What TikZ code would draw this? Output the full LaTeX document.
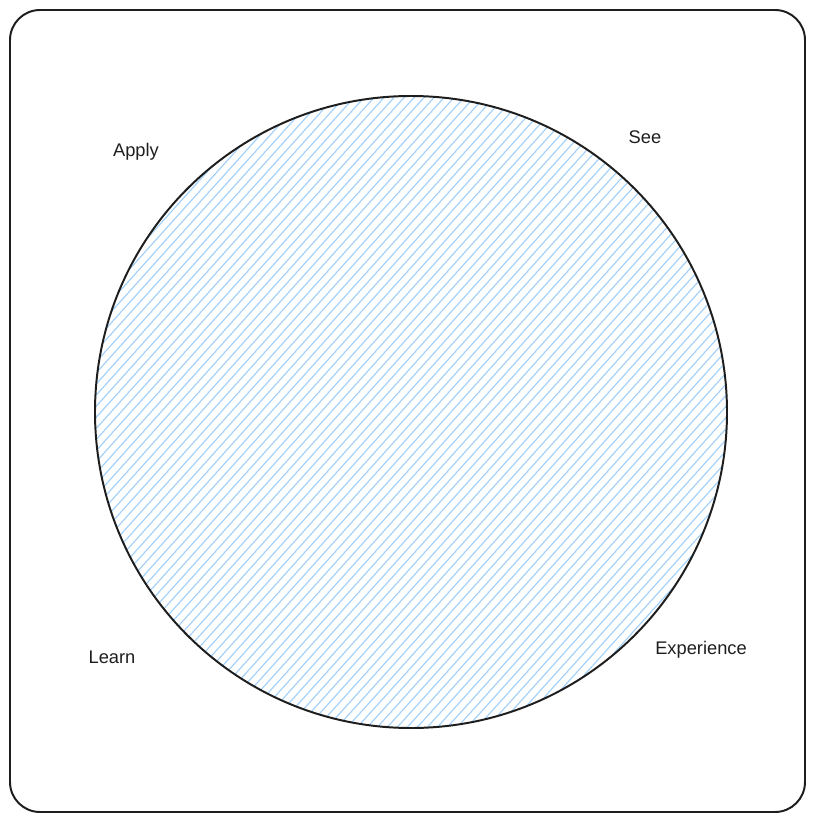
\documentclass[tikz,border=0pt]{standalone}
\usepackage{fontspec}
\setmainfont{Liberation Sans}
\usepackage{tikz}
\usetikzlibrary{positioning, calc}
\definecolor{hatchblue}{RGB}{160,208,250}
\definecolor{inkblack}{RGB}{30,30,30}
\tikzstyle{frame} = [draw=inkblack, line width=1.4pt, rounded corners=0.75cm]
\tikzstyle{wheel} = [draw=inkblack, line width=1.4pt]
\tikzstyle{hatch} = [hatchblue, line width=0.8pt]
\tikzstyle{label} = [text=inkblack, font=\fontsize{13}{15}\selectfont]

\begin{document}
\begin{tikzpicture}[x=0.025cm, y=-0.025cm]
\useasboundingbox (0,0) rectangle (812,822);

\draw [frame] (10,10) rectangle (805,812);

% hatched fill of the circle
\coordinate (centre) at (411,412);
\begin{scope}
\clip (centre) circle (316);
\foreach \k in {-700,-690,...,700}
  \draw [hatch] ($(centre)+(\k-360,400)$) -- ($(centre)+(\k+360,-400)$);
\end{scope}
\draw [wheel] (centre) circle (316);

\node (apply) [label] at (136,152) {Apply};
\node (see) [label] at (645,137) {See};
\node (learn) [label] at (112,657) {Learn};
\node (experience) [label] at (701,650) {Experience};

\end{tikzpicture}
\end{document}
